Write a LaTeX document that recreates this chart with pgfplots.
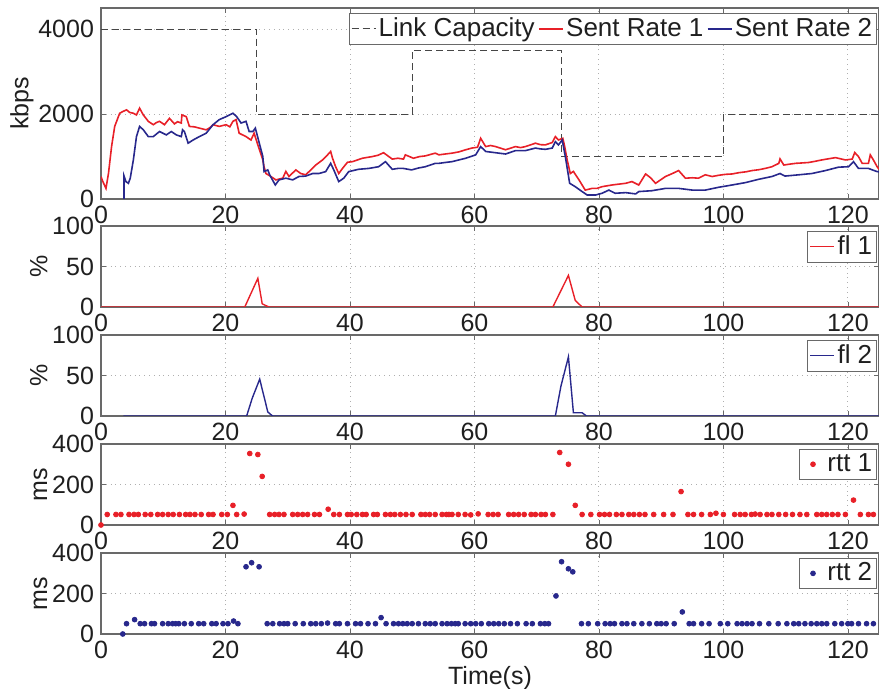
\documentclass[border=0pt]{standalone}
\usepackage{fontspec}
\setmainfont{Liberation Sans}
\usepackage{pgfplots}
\pgfplotsset{compat=1.18}
\definecolor{rred}{RGB}{232,32,40}
\definecolor{bblue}{RGB}{40,40,140}
\definecolor{axgray}{RGB}{105,105,105}
\definecolor{gridgray}{RGB}{175,175,175}
\definecolor{capgray}{RGB}{70,70,70}
\pgfplotsset{
  myaxis/.style={
    scale only axis, width=389pt, xmin=0, xmax=125, xtick={0,20,...,120},
    axis line style={axgray, line width=0.6pt},
    grid=major, major grid style={gridgray, dotted, line width=0.45pt},
    tick align=inside, major tick length=2.5pt, tick style={axgray},
    tick label style={font=\fontsize{12.5}{14}\selectfont, text=black!88},
    label style={font=\fontsize{12.5}{14}\selectfont, text=black!88},
    ylabel style={yshift=-4.5pt},
    /pgf/number format/assume math mode=true,
    /pgf/number format/1000 sep={},
    scaled y ticks=false,
    legend style={font=\fontsize{13}{15}\selectfont, draw=axgray, fill=white,
      at={(1,1)}, anchor=north east, xshift=-1pt, yshift=-2.5pt,
      inner sep=1pt, text=black!88, nodes={inner sep=1.2pt}},
    legend cell align=left,
    anchor=north west,
  },
  lineleg/.style={legend image code/.code={\draw[##1] (0pt,0pt) -- (12pt,0pt);}},
  dotleg/.style={legend image code/.code={\path[draw=none,fill=none] (0pt,0pt) -- (12pt,0pt); \draw[##1, only marks] plot coordinates {(6pt,0pt)};}},
}
\begin{document}
\begin{tikzpicture}
\useasboundingbox (0,0) rectangle (439.5pt,-344.5pt);
% Panel 1
\begin{axis}[myaxis, at={(50.5pt,-4pt)}, height=95.5pt,
  ymin=0, ymax=4500, ytick={0,2000,4000}, ylabel={kbps},
  lineleg, legend columns=3,
  legend style={/tikz/every even column/.append style={column sep=0.5pt}}]
\addplot[capgray, line width=0.6pt, dash pattern=on 3.5pt off 2pt] coordinates {
(0,4000)(25,4000)(25,2000)(50,2000)(50,3500)(74,3500)(74,1000)(100,1000)(100,2000)(125,2000)};
\addlegendentry{Link Capacity}
\addplot[rred, line width=0.8pt] coordinates {
(0,527)(0.3,410)(0.8,250)(1.2,600)(1.7,1235)(2.2,1710)(3.0,2020)(3.5,2060)(4.1,2100)(4.6,2040)(5.2,2020)(5.7,1980)(6.2,2140)(6.8,1980)(7.6,1830)(8.4,1750)(8.9,1800)(9.4,1830)(10.2,1750)(11.0,1900)(11.8,1770)(12.3,1820)(12.9,1790)(13.0,1980)(13.7,1940)(14.2,1710)(15.0,1700)(15.8,1670)(16.9,1630)(17.5,1680)(18.0,1750)(19.0,1710)(20.1,1750)(20.7,1700)(21.2,1830)(21.7,1870)(22.2,1550)(23.3,1470)(24.1,1390)(24.6,1550)(25.2,1275)(26.0,920)(26.2,760)(26.5,600)(27.3,530)(28.1,450)(29.2,490)(29.7,650)(30.2,530)(31.3,685)(32.1,600)(32.9,570)(33.7,685)(34.5,800)(35.6,920)(36.4,1040)(36.9,1120)(37.2,960)(37.7,760)(38.2,600)(38.8,720)(39.6,865)(40.4,880)(41.2,920)(42.0,960)(43.6,1000)(44.5,1030)(45.4,1090)(46.8,940)(47.7,960)(48.6,940)(48.9,1040)(50.2,960)(51.2,1000)(52.1,1015)(53.7,1080)(54.3,1040)(55.3,1060)(56.4,1080)(57.5,1110)(58.6,1160)(59.6,1200)(60.5,1220)(61.0,1430)(61.8,1235)(62.6,1260)(63.4,1235)(65.0,1160)(66.6,1235)(67.4,1210)(68.2,1235)(69.8,1315)(70.6,1280)(71.4,1275)(72.5,1330)(73.0,1470)(73.5,1390)(74.2,1430)(74.5,1235)(74.9,920)(75.4,600)(75.9,650)(76.8,450)(77.8,210)(78.9,250)(79.7,250)(80.5,290)(82.1,330)(83.2,350)(84.3,370)(85.3,410)(86.4,330)(87.5,590)(88.3,500)(89.1,370)(90.7,530)(91.8,600)(92.8,670)(93.9,490)(95.0,500)(96.0,490)(97.1,570)(98.2,530)(99.3,560)(100.3,580)(101.4,590)(102.5,620)(103.6,640)(104.6,670)(105.7,690)(106.7,720)(107.8,760)(108.9,840)(109.1,945)(109.7,800)(110.6,820)(111.6,840)(112.7,850)(113.7,860)(114.8,890)(115.8,920)(117.0,950)(118.0,975)(119.6,920)(120.7,940)(121.1,1095)(121.7,1000)(122.3,840)(123.3,840)(123.6,1040)(124.1,920)(124.7,760)(125,700)};
\addlegendentry{Sent Rate 1}
\addplot[bblue, line width=0.8pt] coordinates {
(3.7,0)(3.7,540)(4.0,410)(4.4,370)(4.7,490)(5.2,920)(5.7,1470)(6.2,1710)(6.8,1630)(7.6,1470)(8.4,1470)(9.4,1590)(10.5,1510)(11.3,1590)(12.1,1510)(12.9,1470)(13.1,1630)(13.4,1590)(14.0,1315)(14.8,1390)(15.8,1470)(16.9,1550)(18.0,1750)(19.0,1870)(20.1,1940)(21.2,2020)(21.8,1940)(22.5,1790)(23.3,1830)(23.8,1590)(24.4,1590)(24.8,1670)(25.3,1390)(26.0,1000)(26.2,645)(26.8,685)(27.1,570)(28.0,330)(28.6,450)(29.7,490)(30.8,450)(31.8,530)(32.9,540)(34.0,600)(35.0,600)(36.1,645)(36.9,840)(37.4,685)(38.2,410)(39.0,490)(39.8,645)(41.4,700)(43.0,720)(44.6,760)(45.7,880)(46.8,700)(47.7,720)(48.6,720)(49.9,685)(51.0,730)(52.1,760)(53.7,840)(54.3,840)(55.3,860)(56.4,880)(57.5,920)(58.6,960)(60.2,1040)(61.0,1235)(61.8,1120)(63.4,1090)(65.0,1060)(66.6,1140)(68.2,1140)(69.8,1200)(70.6,1180)(71.4,1170)(72.5,1200)(73.0,1350)(73.5,1275)(74.1,1390)(74.6,1000)(75.3,370)(76.2,290)(77.3,175)(78.1,95)(79.5,95)(80.5,135)(81.6,210)(82.6,135)(84.3,150)(85.9,120)(86.4,175)(88.5,195)(90.7,250)(92.8,250)(95.0,210)(97.1,210)(99.2,275)(101.4,330)(103.5,385)(105.7,465)(107.8,530)(109.1,600)(109.9,540)(112.1,570)(114.2,600)(116.4,670)(118.5,750)(120.1,760)(120.9,880)(121.7,720)(123.3,720)(124.7,645)(125,640)};
\addlegendentry{Sent Rate 2}
\end{axis}
% Panel 2
\begin{axis}[myaxis, at={(50.5pt,-113pt)}, height=40.5pt,
  ymin=0, ymax=100, ytick={0,50,100}, ylabel={\%}, lineleg]
\addplot[rred, line width=0.7pt] coordinates {
(0,0)(23.1,0)(25.2,35.4)(25.9,4)(26.4,2)(27.0,0)(72.6,0)(75.1,39)(76.2,8)(77.3,0)(125,0)};
\addlegendentry{fl 1}
\end{axis}
% Panel 3
\begin{axis}[myaxis, at={(50.5pt,-167.5pt)}, height=40.5pt,
  ymin=0, ymax=100, ytick={0,50,100}, ylabel={\%}, lineleg]
\addplot[bblue, line width=0.7pt] coordinates {
(3.6,0)(23.4,0)(24.3,22)(25.5,45.5)(26.8,5)(27.4,1)(27.6,0)(73.0,0)(73.9,37)(75.1,73)(75.9,4)(77.3,4)(78.0,0)(125,0)};
\addlegendentry{fl 2}
\end{axis}
% Panel 4
\begin{axis}[myaxis, at={(50.5pt,-222pt)}, height=40.5pt,
  ymin=0, ymax=400, ytick={0,200,400}, ylabel={ms}, clip=false, dotleg]
\addplot[only marks, mark=*, mark size=1.2pt, rred, mark options={draw=rred, fill=rred}] coordinates {
(0,0)(1.0,52)(2.4,52)(3.2,52)(4.5,52)(5.3,52)(6.0,52)(7.1,52)(8.0,52)(9.1,52)(9.9,52)(10.8,52)(11.6,52)(12.6,52)(13.6,52)(14.3,52)(15.1,52)(16.1,52)(17.3,52)(18.0,52)(19.4,52)(20.3,52)(21.2,97)(21.8,52)(23.0,54)(23.9,353)(25.2,348)(25.9,240)(27.1,52)(27.9,52)(28.6,52)(29.4,52)(30.8,52)(31.6,52)(32.4,52)(33.2,52)(34.3,52)(35.1,52)(36.5,78)(37.4,52)(38.3,52)(39.6,52)(40.2,52)(41.1,52)(42.0,52)(42.6,52)(43.8,52)(44.4,52)(45.7,52)(46.5,52)(47.2,52)(48.1,52)(49.0,52)(50.0,52)(51.4,52)(52.1,52)(52.8,52)(53.7,52)(54.8,52)(55.5,52)(55.9,52)(56.4,52)(57.4,52)(58.5,52)(59.4,50)(60.6,55)(62.2,52)(63.0,52)(63.8,52)(65.5,52)(66.3,52)(67.1,52)(68.0,52)(69.1,52)(69.8,52)(70.7,52)(71.4,52)(72.6,52)(73.7,358)(75.1,300)(76.2,97)(77.3,52)(78.7,52)(80.1,52)(80.9,52)(81.7,52)(82.8,52)(83.7,52)(84.8,52)(85.6,52)(86.5,52)(87.4,52)(88.8,52)(90.4,52)(91.9,52)(93.2,165)(94.3,52)(95.2,52)(96.5,52)(97.9,52)(98.8,58)(100.0,52)(101.8,52)(102.7,52)(103.5,52)(104.5,52)(105.1,54)(105.9,52)(107.0,52)(107.8,52)(108.9,52)(110.0,52)(111.1,52)(112.3,52)(113.4,52)(115.0,52)(115.8,52)(116.6,52)(117.5,52)(118.4,52)(119.6,52)(120.9,123)(122.0,52)(123.3,52)(124.1,52)};
\addlegendentry{rtt 1}
\end{axis}
% Panel 5
\begin{axis}[myaxis, at={(50.5pt,-276.5pt)}, height=40.5pt,
  ymin=0, ymax=400, ytick={0,200,400}, ylabel={ms}, xlabel={Time(s)}, clip=false,
  xlabel style={yshift=3pt}, dotleg]
\addplot[only marks, mark=*, mark size=1.2pt, bblue, mark options={draw=bblue, fill=bblue}] coordinates {
(3.5,0)(4.1,51)(5.4,71)(6.3,51)(7.0,51)(8.1,51)(8.6,51)(9.9,51)(10.8,51)(11.5,51)(12.0,51)(12.5,51)(13.4,51)(14.5,51)(15.7,51)(16.5,51)(17.8,51)(18.5,51)(19.6,51)(20.4,51)(21.3,64)(22.0,51)(23.3,332)(24.2,352)(25.4,332)(26.7,51)(27.6,51)(28.7,51)(29.4,51)(30.0,51)(31.2,51)(32.5,51)(33.7,51)(34.5,51)(35.4,51)(36.4,54)(37.7,51)(38.3,51)(39.6,51)(40.9,51)(41.7,51)(42.9,51)(44.1,51)(45.0,81)(45.8,51)(47.0,51)(47.8,51)(48.5,51)(49.2,51)(50.0,51)(51.0,51)(52.1,51)(52.9,51)(53.7,51)(54.8,51)(55.6,51)(56.3,51)(56.9,51)(57.4,51)(58.5,51)(59.4,51)(60.2,51)(61.1,51)(62.3,51)(63.1,51)(63.9,51)(64.8,51)(65.8,51)(66.9,51)(68.3,51)(69.3,51)(70.6,51)(71.3,51)(71.9,51)(73.1,188)(74.0,357)(75.1,322)(75.8,307)(77.2,51)(78.3,51)(79.8,51)(81.0,51)(81.8,51)(82.5,51)(83.7,51)(84.5,51)(85.6,51)(86.9,51)(88.1,51)(89.3,51)(90.0,51)(90.8,51)(92.1,51)(93.4,109)(94.5,51)(95.2,51)(96.5,51)(97.7,51)(99.5,51)(100.7,51)(102.2,51)(103.0,51)(103.8,51)(104.6,51)(105.8,51)(107.3,51)(108.8,51)(110.2,51)(111.3,51)(112.1,51)(113.1,51)(114.1,51)(115.0,51)(115.8,51)(116.6,51)(117.9,51)(119.0,51)(120.0,51)(120.6,51)(121.7,51)(123.0,51)(124.1,51)};
\addlegendentry{rtt 2}
\end{axis}
\end{tikzpicture}
\end{document}
